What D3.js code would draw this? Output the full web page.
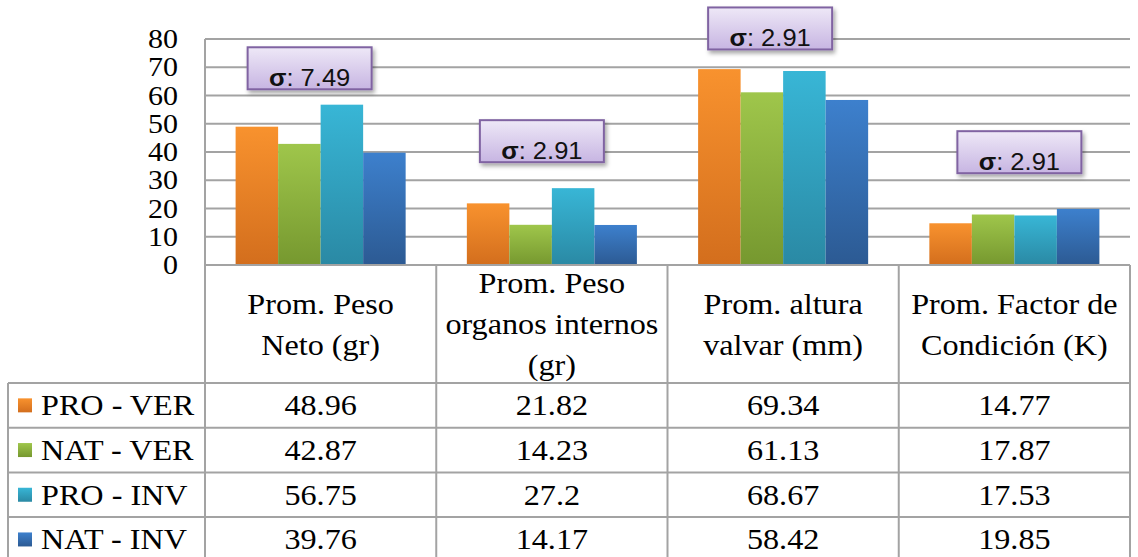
<!DOCTYPE html>
<html>
<head>
<meta charset="utf-8">
<script src="https://cdn.jsdelivr.net/npm/d3@7"></script>
<style>
  body { margin: 0; background: #fff; }
  svg { display: block; }
  .serif { font-family: "Liberation Serif", "DejaVu Serif", "Times New Roman", serif; }
  .sans { font-family: "Liberation Sans", Arial, sans-serif; }
</style>
</head>
<body>
<svg id="chart" width="1138" height="557"></svg>
<script>
// categories (header lines as shown in the table)
const categories = ["peso", "organos", "altura", "factor"];
const headerLines = [
  ["Prom. Peso", "Neto (gr)"],
  ["Prom. Peso", "organos internos", "(gr)"],
  ["Prom. altura", "valvar (mm)"],
  ["Prom. Factor de", "Condición (K)"]
];
const seriesNames = ["PRO - VER", "NAT - VER", "PRO - INV", "NAT - INV"];
const proVer = [48.96, 21.82, 69.34, 14.77];
const natVer = [42.87, 14.23, 61.13, 17.87];
const proInv = [56.75, 27.2, 68.67, 17.53];
const natInv = [39.76, 14.17, 58.42, 19.85];
const yTicks = [0, 10, 20, 30, 40, 50, 60, 70, 80];
const sigmaLabels = ["7.49", "2.91", "2.91", "2.91"];

// where the sigma callouts sit (offset from category centre, bottom edge in data units)
const sigmaOffset = [-11, -10, -13, 5];
const sigmaBottom = [62.2, 36.4, 76.3, 32.5];

const seriesValues = [proVer, natVer, proInv, natInv];
const colors = [
  ["#f8922e", "#d36e1d"],
  ["#9fc64b", "#76982f"],
  ["#38b6d6", "#2a89a4"],
  ["#3d80cd", "#2c5a93"]
];

const fs = 29;
const stretch = 1.11; // the source picture is a little wider than tall
const lineColor = "#a3a3a3";

// put a text at (px, py), widened a bit like the original
function place(sel, px, py) {
  return sel.attr("transform", (d, i) => {
    const a = typeof px === "function" ? px(d, i) : px;
    const b = typeof py === "function" ? py(d, i) : py;
    return `translate(${a},${b}) scale(${stretch},1)`;
  });
}

const svg = d3.select("#chart");
const defs = svg.append("defs");

colors.forEach((c, i) => {
  const g = defs.append("linearGradient")
    .attr("id", "grad" + i)
    .attr("x1", 0).attr("y1", 0).attr("x2", 0).attr("y2", 1);
  g.append("stop").attr("offset", "0%").attr("stop-color", c[0]);
  g.append("stop").attr("offset", "100%").attr("stop-color", c[1]);
});

const boxGrad = defs.append("linearGradient")
  .attr("id", "boxGrad")
  .attr("x1", 0).attr("y1", 0).attr("x2", 0).attr("y2", 1);
boxGrad.append("stop").attr("offset", "0%").attr("stop-color", "#eee8f7");
boxGrad.append("stop").attr("offset", "100%").attr("stop-color", "#c7b5e2");

const shadow = defs.append("filter").attr("id", "shadow")
  .attr("x", "-10%").attr("y", "-10%").attr("width", "130%").attr("height", "140%");
shadow.append("feDropShadow")
  .attr("dx", 2).attr("dy", 3).attr("stdDeviation", 2)
  .attr("flood-color", "#000").attr("flood-opacity", 0.35);

const plotLeft = 205, plotRight = 1130, plotTop = 39, plotBottom = 265;
const headerBottom = 383, rowH = 44.7, tableLeft = 8;

const x = d3.scaleBand().domain(d3.range(categories.length)).range([plotLeft, plotRight]);
const xs = d3.scaleBand().domain(d3.range(seriesNames.length))
  .range([0, x.bandwidth()]).paddingOuter(0.72);
const y = d3.scaleLinear().domain([0, 80]).range([plotBottom, plotTop]);

// gridlines
svg.append("g")
  .selectAll("line")
  .data(yTicks.filter(t => t > 0))
  .join("line")
  .attr("x1", plotLeft).attr("x2", plotRight)
  .attr("y1", d => y(d)).attr("y2", d => y(d))
  .attr("stroke", lineColor).attr("stroke-width", 2);

// y axis line
svg.append("line")
  .attr("x1", plotLeft).attr("x2", plotLeft)
  .attr("y1", plotTop).attr("y2", plotBottom)
  .attr("stroke", lineColor).attr("stroke-width", 2);

// y tick labels
place(svg.append("g")
  .selectAll("text")
  .data(yTicks)
  .join("text")
  .attr("class", "serif")
  .attr("text-anchor", "end")
  .attr("font-size", 27)
  .text(d => d), 178, d => y(d) + 9);

// bars
seriesValues.forEach((vals, s) => {
  svg.append("g")
    .selectAll("rect")
    .data(vals)
    .join("rect")
    .attr("x", (d, i) => x(i) + xs(s))
    .attr("width", xs.bandwidth())
    .attr("y", d => y(d))
    .attr("height", d => y(0) - y(d))
    .attr("fill", "url(#grad" + s + ")");
});

// sigma callouts
const boxW = 124, boxH = 42;
sigmaLabels.forEach((lab, i) => {
  const cx = x(i) + x.bandwidth() / 2 + sigmaOffset[i];
  const by = y(sigmaBottom[i]);
  const g = svg.append("g");
  defs.append("clipPath").attr("id", "clip" + i)
    .append("rect")
    .attr("x", cx - boxW / 2).attr("y", by - boxH)
    .attr("width", boxW).attr("height", boxH);
  g.append("rect")
    .attr("x", cx - boxW / 2).attr("y", by - boxH)
    .attr("width", boxW).attr("height", boxH)
    .attr("fill", "url(#boxGrad)")
    .attr("stroke", "#8064a2").attr("stroke-width", 2)
    .attr("filter", "url(#shadow)");
  const t = place(g.append("g").attr("clip-path", "url(#clip" + i + ")")
    .append("text"), cx, by - 3)
    .attr("class", "sans")
    .attr("text-anchor", "middle")
    .attr("font-size", 23)
    .attr("fill", "#111");
  t.append("tspan").attr("font-weight", "bold").text("σ");
  t.append("tspan").text(": " + lab);
});

// data table
const table = svg.append("g");
const rowTops = d3.range(seriesNames.length + 1).map(r => headerBottom + r * rowH);

// horizontal lines
table.append("line")
  .attr("x1", plotLeft).attr("x2", plotRight).attr("y1", plotBottom).attr("y2", plotBottom)
  .attr("stroke", lineColor).attr("stroke-width", 2);
table.selectAll("line.h")
  .data(rowTops)
  .join("line")
  .attr("class", "h")
  .attr("x1", tableLeft).attr("x2", plotRight)
  .attr("y1", d => d).attr("y2", d => d)
  .attr("stroke", lineColor).attr("stroke-width", 2);

// vertical lines
const colEdges = d3.range(categories.length + 1).map(i => i < categories.length ? x(i) : plotRight);
table.selectAll("line.v")
  .data(colEdges)
  .join("line")
  .attr("class", "v")
  .attr("x1", d => d).attr("x2", d => d)
  .attr("y1", plotBottom).attr("y2", 557)
  .attr("stroke", lineColor).attr("stroke-width", 2);
table.append("line")
  .attr("x1", tableLeft).attr("x2", tableLeft)
  .attr("y1", headerBottom).attr("y2", 557)
  .attr("stroke", lineColor).attr("stroke-width", 2);

// header text
const headerMid = (plotBottom + headerBottom) / 2;
const lh = 41;
headerLines.forEach((lines, i) => {
  place(table.append("g")
    .selectAll("text")
    .data(lines)
    .join("text")
    .attr("class", "serif")
    .attr("text-anchor", "middle")
    .attr("font-size", fs)
    .text(d => d),
    x(i) + x.bandwidth() / 2,
    (d, k) => headerMid + (k - (lines.length - 1) / 2) * lh + 10);
});

// legend column + values
seriesNames.forEach((name, s) => {
  const mid = rowTops[s] + rowH / 2;
  table.append("rect")
    .attr("x", 18).attr("y", mid - 7)
    .attr("width", 14).attr("height", 14)
    .attr("fill", "url(#grad" + s + ")");
  place(table.append("text")
    .attr("class", "serif")
    .attr("font-size", fs)
    .text(name), 41, mid + 10);
  place(table.append("g")
    .selectAll("text")
    .data(seriesValues[s])
    .join("text")
    .attr("class", "serif")
    .attr("text-anchor", "middle")
    .attr("font-size", fs)
    .text(d => String(d)),
    (d, i) => x(i) + x.bandwidth() / 2, mid + 10);
});
</script>
</body>
</html>
